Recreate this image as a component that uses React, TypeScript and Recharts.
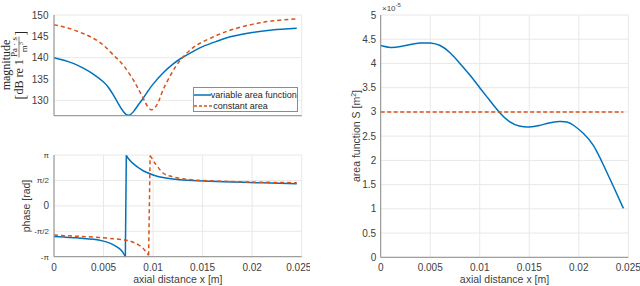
import React from 'react';
import { LineChart, Line, XAxis, YAxis, CartesianGrid, Legend } from 'recharts';

// values: [axial distance x (m), value]
const magnitudeVariable: [number, number][] = [
  [0, 140], [0.001, 139.4], [0.002, 138.6], [0.003, 137.5], [0.004, 136.1], [0.005, 134.3],
  [0.0055, 133], [0.006, 131.2], [0.0065, 129.2], [0.007, 127.4], [0.0075, 126.5],
  [0.008, 127.3], [0.0085, 128.9], [0.009, 130.5], [0.0095, 132.2], [0.01, 133.8],
  [0.011, 136.4], [0.012, 138.5], [0.013, 140.1], [0.014, 141.4], [0.015, 142.6],
  [0.0165, 143.9], [0.018, 145], [0.02, 145.9], [0.022, 146.5], [0.0245, 146.9],
];
const magnitudeConstant: [number, number][] = [
  [0, 147.7], [0.001, 147.2], [0.002, 146.5], [0.003, 145.6], [0.004, 144.5], [0.005, 142.9],
  [0.006, 140.6], [0.007, 138.2], [0.008, 134.8], [0.0085, 132.7], [0.009, 130.5],
  [0.0094, 128.7], [0.0098, 127.8], [0.0102, 128.3], [0.0106, 130], [0.011, 132.4],
  [0.0116, 135.2], [0.0123, 138], [0.013, 140.1], [0.014, 142.3], [0.015, 143.7],
  [0.0165, 145.3], [0.018, 146.6], [0.02, 147.8], [0.022, 148.6], [0.0245, 149.1],
];
// phase is wrapped to [-pi, pi]: one array before the wrap, one after
const phaseVariableBefore: [number, number][] = [
  [0, -1.9], [0.001, -1.93], [0.002, -1.97], [0.003, -2.01], [0.004, -2.07], [0.005, -2.18],
  [0.0055, -2.27], [0.006, -2.41], [0.0065, -2.6], [0.0068, -2.76], [0.007, -2.92], [0.0072, -3.14],
];
const phaseVariableAfter: [number, number][] = [
  [0.0073, 3.12], [0.0075, 2.93], [0.008, 2.61], [0.0085, 2.37], [0.009, 2.17], [0.01, 1.91],
  [0.011, 1.75], [0.012, 1.66], [0.013, 1.6], [0.015, 1.53], [0.018, 1.47], [0.021, 1.42],
  [0.0245, 1.36],
];
const phaseConstantBefore: [number, number][] = [
  [0, -1.8], [0.002, -1.87], [0.004, -1.93], [0.006, -2.03], [0.007, -2.1], [0.0075, -2.15],
  [0.008, -2.25], [0.0085, -2.4], [0.009, -2.63], [0.0093, -2.85], [0.00955, -3.05],
];
const phaseConstantAfter: [number, number][] = [
  [0.0097, 3.1], [0.0099, 2.92], [0.0102, 2.62], [0.0105, 2.38], [0.011, 2.03], [0.0115, 1.88],
  [0.0121, 1.77], [0.013, 1.68], [0.0145, 1.58], [0.017, 1.52], [0.02, 1.47], [0.0245, 1.43],
];
// area in units of 1e-5 m^2
const areaVariable: [number, number][] = [
  [0, 4.37], [0.001, 4.33], [0.002, 4.35], [0.003, 4.39], [0.004, 4.42], [0.005, 4.42],
  [0.006, 4.37], [0.007, 4.22], [0.008, 4.0], [0.009, 3.76], [0.01, 3.5], [0.011, 3.24],
  [0.012, 2.99], [0.013, 2.8], [0.014, 2.71], [0.015, 2.69], [0.016, 2.72], [0.017, 2.77],
  [0.018, 2.8], [0.0188, 2.79], [0.0195, 2.72], [0.0205, 2.55], [0.0215, 2.3],
  [0.0225, 1.9], [0.0235, 1.46], [0.0245, 1.01],
];
const areaConstant: [number, number][] = [[0, 3], [0.0245, 3]];

const seriesNames = ['variable area function', 'constant area'];
const X_TICKS = [0, 0.005, 0.01, 0.015, 0.02, 0.025];
const MAG_TICKS = [130, 135, 140, 145, 150];
const PHASE_TICKS = [-Math.PI, -Math.PI / 2, 0, Math.PI / 2, Math.PI];
const PHASE_LABELS = ['-π', '-π/2', '0', 'π/2', 'π'];
const AREA_TICKS = [0, 0.5, 1, 1.5, 2, 2.5, 3, 3.5, 4, 4.5, 5];

const BLUE = '#0072BD';
const RED = '#D95319';
const AXIS = '#8c8c8c';
const GRID = '#e8e8e8';
const TEXT = '#404040';
const SERIF = "'Liberation Serif', 'Times New Roman', serif";

const pts = (arr: [number, number][]) => arr.map(([x, y]) => ({ x, y }));
// the near-vertical wrap segment: last point before, first point after
const wrap = (a: [number, number][], b: [number, number][]) => pts([a[a.length - 1], b[0]]);

function MagnitudeLabel() {
  return (
    <g transform="translate(0,65) rotate(-90)" fill="#262626" fontFamily={SERIF}>
      <text x={0} y={9.5} textAnchor="middle" fontSize={12}>magnitude</text>
      <text x={-34.5} y={25} fontSize={14}>[</text>
      <text x={-29.5} y={23} fontSize={12}>dB re 1</text>
      <text x={18} y={16.5} textAnchor="middle" fontSize={9}>Pa · s</text>
      <line x1={7.5} x2={28.5} y1={19} y2={19} stroke="#262626" strokeWidth={0.6} />
      <text x={18} y={26.5} textAnchor="middle" fontSize={9}>
        m<tspan dy={-3.5} fontSize={6.5}>3</tspan>
      </text>
      <text x={29.5} y={25} fontSize={14}>]</text>
    </g>
  );
}

function RotatedTitle({ cx, cy, children }: { cx: number; cy: number; children?: React.ReactNode }) {
  return (
    <text transform={`translate(${cx},${cy}) rotate(-90)`} textAnchor="middle" fontSize={10.5} fill={TEXT}>
      {children}
    </text>
  );
}

function XTitle({ cx, cy }: { cx: number; cy: number }) {
  return (
    <text x={cx} y={cy} textAnchor="middle" fontSize={10.5} fill={TEXT}>axial distance x [m]</text>
  );
}

function AreaTitle() {
  return (
    <g>
      <RotatedTitle cx={30} cy={136}>
        area function S [m<tspan dy={-4} fontSize={7}>2</tspan><tspan dy={4}>]</tspan>
      </RotatedTitle>
      <text x={52} y={11} fontSize={8} fill={TEXT}>
        ×10<tspan dy={-4} fontSize={6}>-5</tspan>
      </text>
    </g>
  );
}

function LegendBox() {
  const rows = [
    { name: seriesNames[0], color: BLUE, dash: undefined },
    { name: seriesNames[1], color: RED, dash: '3 2' },
  ];
  return (
    <div style={{ border: `1px solid ${AXIS}`, background: '#fff', width: 103, height: 23, boxSizing: 'content-box' }}>
      {rows.map((r) => (
        <div key={r.name} style={{ display: 'flex', alignItems: 'center', height: 10, marginTop: 1.5, fontSize: 9, color: '#262626', lineHeight: '10px' }}>
          <svg width={19} height={4} style={{ marginLeft: 0.5 }}>
            <line x1={0} x2={18} y1={2} y2={2} stroke={r.color} strokeWidth={1.5} strokeDasharray={r.dash} />
          </svg>
          <span style={{ whiteSpace: 'nowrap' }}>{r.name}</span>
        </div>
      ))}
    </div>
  );
}

const phaseTick = (p: any) => {
  const i = PHASE_TICKS.findIndex((t) => Math.abs(t - p.payload.value) < 1e-9);
  return (
    <text x={p.x} y={p.y} dy="0.35em" textAnchor="end" fontSize={i === 2 ? 10 : 8} fill={TEXT}>
      {PHASE_LABELS[i]}
    </text>
  );
};

export default function App() {
  const tickStyle = { fontSize: 10, fill: TEXT };
  const common = { dataKey: 'y', dot: false, isAnimationActive: false, strokeWidth: 1.5 };
  return (
    <div style={{ position: 'absolute', left: 0, top: 0, width: 640, height: 286, background: '#fff', fontFamily: "'Liberation Sans', Arial, sans-serif" }}>
      <div style={{ position: 'absolute', left: 0, top: 0 }}>
        <LineChart width={310} height={120} margin={{ top: 15, right: 8.3, bottom: 3.3, left: 0 }}>
          <CartesianGrid stroke={GRID} />
          <XAxis type="number" dataKey="x" domain={[0, 0.025]} ticks={X_TICKS} tick={false} tickLine={false} height={1} stroke={AXIS} allowDataOverflow />
          <YAxis type="number" domain={[126.4, 150]} ticks={MAG_TICKS} width={54} tickLine={false} tickSize={0} tickMargin={5.5} tick={tickStyle} stroke={AXIS} allowDataOverflow label={<MagnitudeLabel />} />
          <Line {...common} data={pts(magnitudeVariable)} type="natural" stroke={BLUE} />
          <Line {...common} data={pts(magnitudeConstant)} type="natural" stroke={RED} strokeDasharray="4 3" />
          <Legend layout="horizontal" verticalAlign="middle" align="center" content={() => <LegendBox />} wrapperStyle={{ left: 192.7, top: 87.3, width: 105, height: 25 }} />
        </LineChart>
      </div>
      <div style={{ position: 'absolute', left: 0, top: 140 }}>
        <LineChart width={310} height={146} margin={{ top: 15, right: 8.3, bottom: 0, left: 0 }}>
          <CartesianGrid stroke={GRID} />
          <XAxis type="number" dataKey="x" domain={[0, 0.025]} ticks={X_TICKS} height={29.3} tickLine={false} tickSize={0} tickMargin={6.7} tick={tickStyle} stroke={AXIS} allowDataOverflow label={<XTitle cx={177.85} cy={143} />} />
          <YAxis type="number" domain={[-Math.PI, Math.PI]} ticks={PHASE_TICKS} width={54} tickLine={false} tickSize={0} tickMargin={5} tick={phaseTick} stroke={AXIS} allowDataOverflow label={<RotatedTitle cx={29.5} cy={66}>phase [rad]</RotatedTitle>} />
          <Line {...common} data={pts(phaseVariableBefore)} type="natural" stroke={BLUE} />
          <Line {...common} data={wrap(phaseVariableBefore, phaseVariableAfter)} type="linear" stroke={BLUE} />
          <Line {...common} data={pts(phaseVariableAfter)} type="natural" stroke={BLUE} />
          <Line {...common} data={pts(phaseConstantBefore)} type="natural" stroke={RED} strokeDasharray="4 3" />
          <Line {...common} data={wrap(phaseConstantBefore, phaseConstantAfter)} type="linear" stroke={RED} strokeDasharray="4 3" />
          <Line {...common} data={pts(phaseConstantAfter)} type="natural" stroke={RED} strokeDasharray="4 3" />
        </LineChart>
      </div>
      <div style={{ position: 'absolute', left: 330, top: 0 }}>
        <LineChart width={310} height={286} margin={{ top: 15, right: 11.7, bottom: 0, left: 0 }}>
          <CartesianGrid stroke={GRID} />
          <XAxis type="number" dataKey="x" domain={[0, 0.025]} ticks={X_TICKS} height={28.7} tickLine={false} tickSize={0} tickMargin={6.7} tick={tickStyle} stroke={AXIS} allowDataOverflow label={<XTitle cx={174.5} cy={283} />} />
          <YAxis type="number" domain={[0, 5]} ticks={AREA_TICKS} width={50.7} tickLine={false} tickSize={0} tickMargin={4.5} tick={tickStyle} stroke={AXIS} allowDataOverflow label={<AreaTitle />} />
          <Line {...common} data={pts(areaVariable)} type="natural" stroke={BLUE} />
          <Line {...common} data={pts(areaConstant)} type="linear" stroke={RED} strokeDasharray="4 2.5" />
        </LineChart>
      </div>
    </div>
  );
}
